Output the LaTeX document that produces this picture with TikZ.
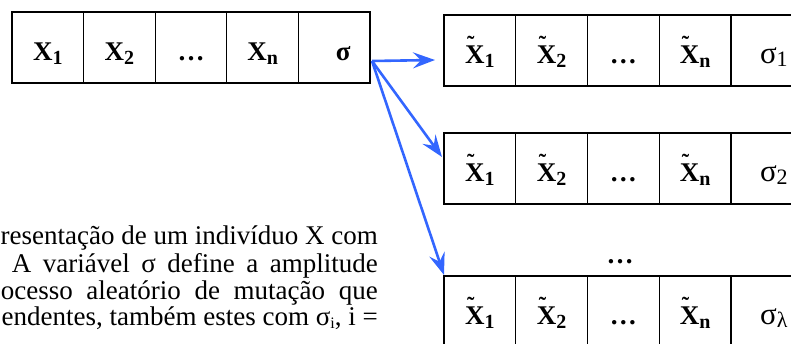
\documentclass[tikz,border=0pt]{standalone}
\usepackage{fontspec}
\setmainfont{Liberation Serif}
\usetikzlibrary{arrows.meta, positioning}
\definecolor{mutblue}{RGB}{51,102,255}

\newcommand{\cellfont}{\fontsize{27}{28}\selectfont\bfseries}
\newcommand{\bodyfont}{\fontsize{27}{28}\selectfont}
\newcommand{\sub}[1]{\raisebox{-4pt}{\fontsize{20}{20}\selectfont #1}}
\newcommand{\tX}{\makebox[0pt][l]{\hspace{2pt}\raisebox{12pt}{\fontsize{22}{22}\selectfont\char"02DC}}X}
\newcommand{\sg}[1]{{\mdseries\fontsize{31}{31}\selectfont σ}\raisebox{-3pt}{\mdseries\fontsize{22}{22}\selectfont #1}}

\begin{document}
\begin{tikzpicture}[x=1pt, y=-1pt,
      cell/.style={draw, rectangle, line width=1.2pt, outer sep=0pt, inner sep=0pt,
                   minimum width=71.6pt, minimum height=71pt,
                   text height=26pt, text depth=0pt, font=\cellfont},
      mut/.style={-{Stealth[length=22pt, width=16pt, inset=8pt]}, line width=2.6pt, mutblue},
      txt/.style={anchor=base east, inner sep=0pt, font=\bodyfont}
    ]
    \useasboundingbox (0,0) rectangle (791,343);
    \clip (0,0) rectangle (791,343);

    % parent individual
    \node[cell, anchor=north west] (a1) at (12,12) {X\sub{1}\hspace{20pt}};
    \node[cell, right=0pt of a1] (a2) {X\sub{2}\hspace{9pt}};
    \node[cell, right=0pt of a2] (a3) {…\hspace{12pt}};
    \node[cell, right=0pt of a3] (a4) {X\sub{n}};
    \node[cell, right=0pt of a4] (a5) {\hspace{18pt}σ};

    % descendants
    \node[cell, anchor=north west, minimum width=71.75pt] (b1) at (444,15) {\tX\sub{1}\hspace{22pt}};
    \node[cell, right=0pt of b1, minimum width=71.75pt] (b2) {\tX\sub{2}\hspace{9pt}};
    \node[cell, right=0pt of b2, minimum width=71.75pt] (b3) {…\hspace{14pt}};
    \node[cell, right=0pt of b3, minimum width=71.75pt] (b4) {\tX\sub{n}\hspace{6pt}};
    \node[cell, right=0pt of b4, minimum width=71.75pt] (b5) {\hspace{14pt}\sg{1}};

    \node[cell, anchor=north west, minimum width=71.75pt] (c1) at (444,133) {\tX\sub{1}\hspace{22pt}};
    \node[cell, right=0pt of c1, minimum width=71.75pt] (c2) {\tX\sub{2}\hspace{9pt}};
    \node[cell, right=0pt of c2, minimum width=71.75pt] (c3) {…\hspace{14pt}};
    \node[cell, right=0pt of c3, minimum width=71.75pt] (c4) {\tX\sub{n}\hspace{6pt}};
    \node[cell, right=0pt of c4, minimum width=71.75pt] (c5) {\hspace{14pt}\sg{2}};

    \node[font=\cellfont, anchor=base, inner sep=0pt] (dots) at (620,263) {…};

    \node[cell, anchor=north west, minimum width=71.75pt] (d1) at (444,276) {\tX\sub{1}\hspace{22pt}};
    \node[cell, right=0pt of d1, minimum width=71.75pt] (d2) {\tX\sub{2}\hspace{9pt}};
    \node[cell, right=0pt of d2, minimum width=71.75pt] (d3) {…\hspace{14pt}};
    \node[cell, right=0pt of d3, minimum width=71.75pt] (d4) {\tX\sub{n}\hspace{6pt}};
    \node[cell, right=0pt of d4, minimum width=71.75pt] (d5) {\hspace{14pt}\sg{λ}};

    % mutation arrows
    \coordinate (src) at (372,61);
    \coordinate (to1) at (435,60);
    \coordinate (to2) at (442,157);
    \coordinate (to3) at (444,275);
    \draw[mut] (src) -- (to1);
    \draw[mut] (src) -- (to2);
    \draw[mut] (src) -- (to3);

    % caption text (cut at the left)
    \node[txt] (l1) at (378,244) {resentação de um indivíduo X com};
    \node[txt] (l2) at (378,272) {\makebox[366pt][s]{A variável σ define a amplitude}};
    \node[txt] (l3) at (378,299) {\makebox[377pt][s]{ocesso aleatório de mutação que}};
    \node[txt] (l4) at (378,325) {endentes, também estes com σ\raisebox{-3pt}{\fontsize{16}{16}\selectfont i}, i =};
  \end{tikzpicture}
\end{document}
